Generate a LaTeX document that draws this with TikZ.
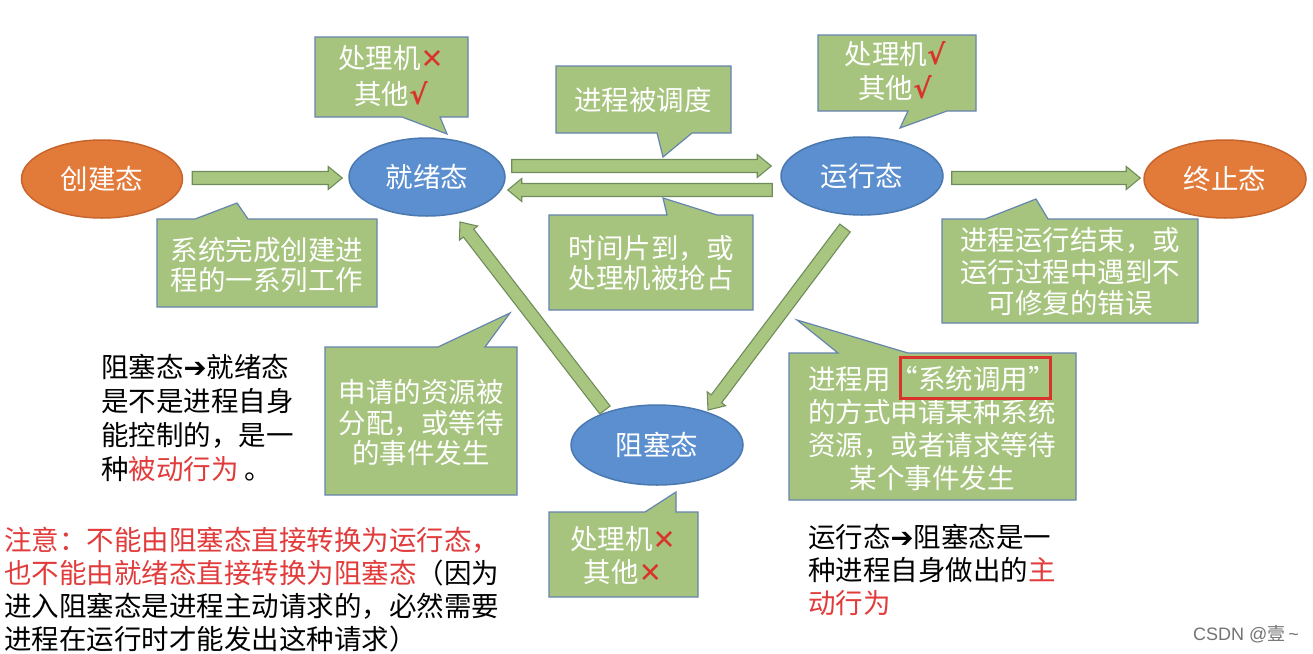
\documentclass[tikz,border=0pt]{standalone}
\usepackage{fontspec}
\setmainfont{Noto Sans CJK SC}
\newfontfamily\dvfont{DejaVu Sans}
\newfontfamily\lsfont{Liberation Sans}
\usetikzlibrary{shapes.geometric,calc}
\definecolor{ellblue}{HTML}{5B8FCF}
\definecolor{ellblueb}{HTML}{4A78B0}
\definecolor{ellorange}{HTML}{E27A3A}
\definecolor{ellorangeb}{HTML}{C8652C}
\definecolor{boxgreen}{HTML}{A6C47E}
\definecolor{boxborder}{HTML}{6685AE}
\definecolor{arrgreen}{HTML}{A9C681}
\definecolor{arrborder}{HTML}{6F8C5A}
\definecolor{txtred}{HTML}{E23B3B}
\definecolor{mkred}{HTML}{D9342B}
\newcommand\crossmk{\textcolor{mkred}{\dvfont ✕}}
\newcommand\checkmk{\textcolor{mkred}{\dvfont\bfseries √}}
\newcommand\blockarrow[2]{%
  \coordinate (ba) at (#1); \coordinate (bb) at (#2);
  \coordinate (bh) at ($(bb)!14pt!(ba)$);
  \draw[blockarr] ($(ba)!6.5pt!90:(bb)$) -- ($(bh)!6.5pt!90:(bb)$) -- ($(bh)!11.5pt!90:(bb)$) -- (bb) -- ($(bh)!11.5pt!-90:(bb)$) -- ($(bh)!6.5pt!-90:(bb)$) -- ($(ba)!6.5pt!-90:(bb)$) -- cycle;
}
\begin{document}
\begin{tikzpicture}[x=1pt,y=-1pt,
  state/.style={ellipse, inner sep=0pt, text=white, font=\fontsize{27.5}{32}\selectfont, line width=1.5pt},
  bluestate/.style={state, fill=ellblue, draw=ellblueb},
  orangestate/.style={state, fill=ellorange, draw=ellorangeb},
  callbox/.style={fill=boxgreen, draw=boxborder, line width=1.2pt, line join=miter},
  blockarr/.style={fill=arrgreen, draw=arrborder, line width=1.1pt, line join=miter},
  ctext/.style={text=white, align=center, inner sep=0pt},
  btext/.style={text=black, align=left, inner sep=0pt, anchor=north west}
]
\useasboundingbox[fill=white] (0,0) rectangle (1313,653);

% states
\node[orangestate, minimum width=161pt, minimum height=78pt] (create) at (102,179) {创建态};
\node[bluestate, minimum width=156pt, minimum height=78pt] (ready) at (427,177) {就绪态};
\node[bluestate, minimum width=162pt, minimum height=78pt] (run) at (862,176) {运行态};
\node[orangestate, minimum width=162pt, minimum height=78pt] (term) at (1225,179) {终止态};
\node[bluestate, minimum width=172pt, minimum height=80pt] (block) at (657,445) {阻塞态};

% arrow end points
\coordinate (a1s) at ($(create.east)+(9,-1)$);
\coordinate (a1e) at ($(ready.west)+(-6,1)$);
\coordinate (a2s) at ($(ready.east)+(6,-11)$);
\coordinate (a2e) at ($(run.west)+(-9,-10)$);
\coordinate (a3s) at ($(run.west)+(-8,14)$);
\coordinate (a3e) at ($(ready.east)+(2,13)$);
\coordinate (a4s) at ($(run.east)+(8,2)$);
\coordinate (a4e) at ($(term.west)+(-3,-1)$);
\coordinate (a5s) at ($(run.center)+(-17,52)$);
\coordinate (a5e) at ($(block.center)+(51,-35)$);
\coordinate (a6s) at ($(block.center)+(-52,-35)$);
\coordinate (a6e) at ($(ready.center)+(33,45)$);

\blockarrow{a1s}{a1e}
\blockarrow{a2s}{a2e}
\blockarrow{a3s}{a3e}
\blockarrow{a4s}{a4e}
\blockarrow{a5s}{a5e}
\blockarrow{a6s}{a6e}

% callouts
\draw[callbox] (315,37) -- (468,37) -- (468,117) -- (440,117) -- (447,134) -- (402,117) -- (315,117) -- cycle;
\node[ctext, font=\fontsize{27.5}{36}\selectfont] (c1) at (391,76) {处理机\crossmk\\其他\checkmk};

\draw[callbox] (818,35) -- (976,35) -- (976,111) -- (947,111) -- (900,128) -- (908,111) -- (818,111) -- cycle;
\node[ctext, font=\fontsize{27.5}{34}\selectfont] (c2) at (895,71) {处理机\checkmk\\其他\checkmk};

\draw[callbox] (556,66) -- (731,66) -- (731,133) -- (692,133) -- (663,157) -- (657,133) -- (556,133) -- cycle;
\node[ctext, font=\fontsize{27.5}{32}\selectfont] (c3) at (643,100) {进程被调度};

\draw[callbox] (549,215) -- (667,215) -- (663,198) -- (717,215) -- (753,215) -- (753,310) -- (549,310) -- cycle;
\node[ctext, font=\fontsize{27.5}{30}\selectfont] (c4) at (651,263) {时间片到，或\\处理机被抢占};

\draw[callbox] (157,219) -- (195,219) -- (237,203) -- (248,219) -- (377,219) -- (377,307) -- (157,307) -- cycle;
\node[ctext, font=\fontsize{27.5}{30}\selectfont] (c5) at (267,265) {系统完成创建进\\程的一系列工作};

\draw[callbox] (942,219) -- (985,219) -- (1036,199) -- (1048,219) -- (1198,219) -- (1198,323) -- (942,323) -- cycle;
\node[ctext, font=\fontsize{27.5}{31.5}\selectfont] (c6) at (1070,272) {进程运行结束，或\\运行过程中遇到不\\可修复的错误};

\draw[callbox] (325,347) -- (438,347) -- (510,313) -- (485,347) -- (517,347) -- (517,495) -- (325,495) -- cycle;
\node[ctext, font=\fontsize{27.5}{30.5}\selectfont] (c7) at (421,423) {申请的资源被\\分配，或等待\\的事件发生};

\draw[callbox] (789,353) -- (838,353) -- (797,320) -- (908,353) -- (1076,353) -- (1076,500) -- (789,500) -- cycle;
\node[ctext, font=\fontsize{27.5}{33}\selectfont] (c8) at (932,428) {进程用“系统调用”\\的方式申请某种系统\\资源，或者请求等待\\某个事件发生};
\draw[mkred, line width=3pt] (900,357) rectangle (1050,398);

\draw[callbox] (549,512) -- (645,512) -- (676,492) -- (676,512) -- (698,512) -- (698,597) -- (549,597) -- cycle;
\node[ctext, font=\fontsize{27.5}{33}\selectfont] (c9) at (623,556) {处理机\crossmk\\其他\crossmk};

% free texts
\node[btext, font=\fontsize{27.5}{34}\selectfont] (note1) at (101,354) {阻塞态{\dvfont\bfseries ➔}就绪态\\是不是进程自身\\能控制的，是一\\种\textcolor{txtred}{被动行为} 。};
\node[btext, font=\fontsize{27.5}{33}\selectfont] (note2) at (4,527) {\textcolor{txtred}{注意：不能由阻塞态直接转换为运行态，}\\\textcolor{txtred}{也不能由就绪态直接转换为阻塞态}（因为\\进入阻塞态是进程主动请求的，必然需要\\进程在运行时才能发出这种请求）};
\node[btext, font=\fontsize{27.5}{33}\selectfont] (note3) at (808,524) {运行态{\dvfont\bfseries ➔}阻塞态是一\\种进程自身做出的\textcolor{txtred}{主}\\\textcolor{txtred}{动行为}};

\node[text=black!55, font=\fontsize{18}{20}\selectfont, anchor=east, inner sep=0pt] (wm) at (1299,634) {{\lsfont CSDN @}壹{\lsfont\,\textasciitilde}};
\end{tikzpicture}
\end{document}
